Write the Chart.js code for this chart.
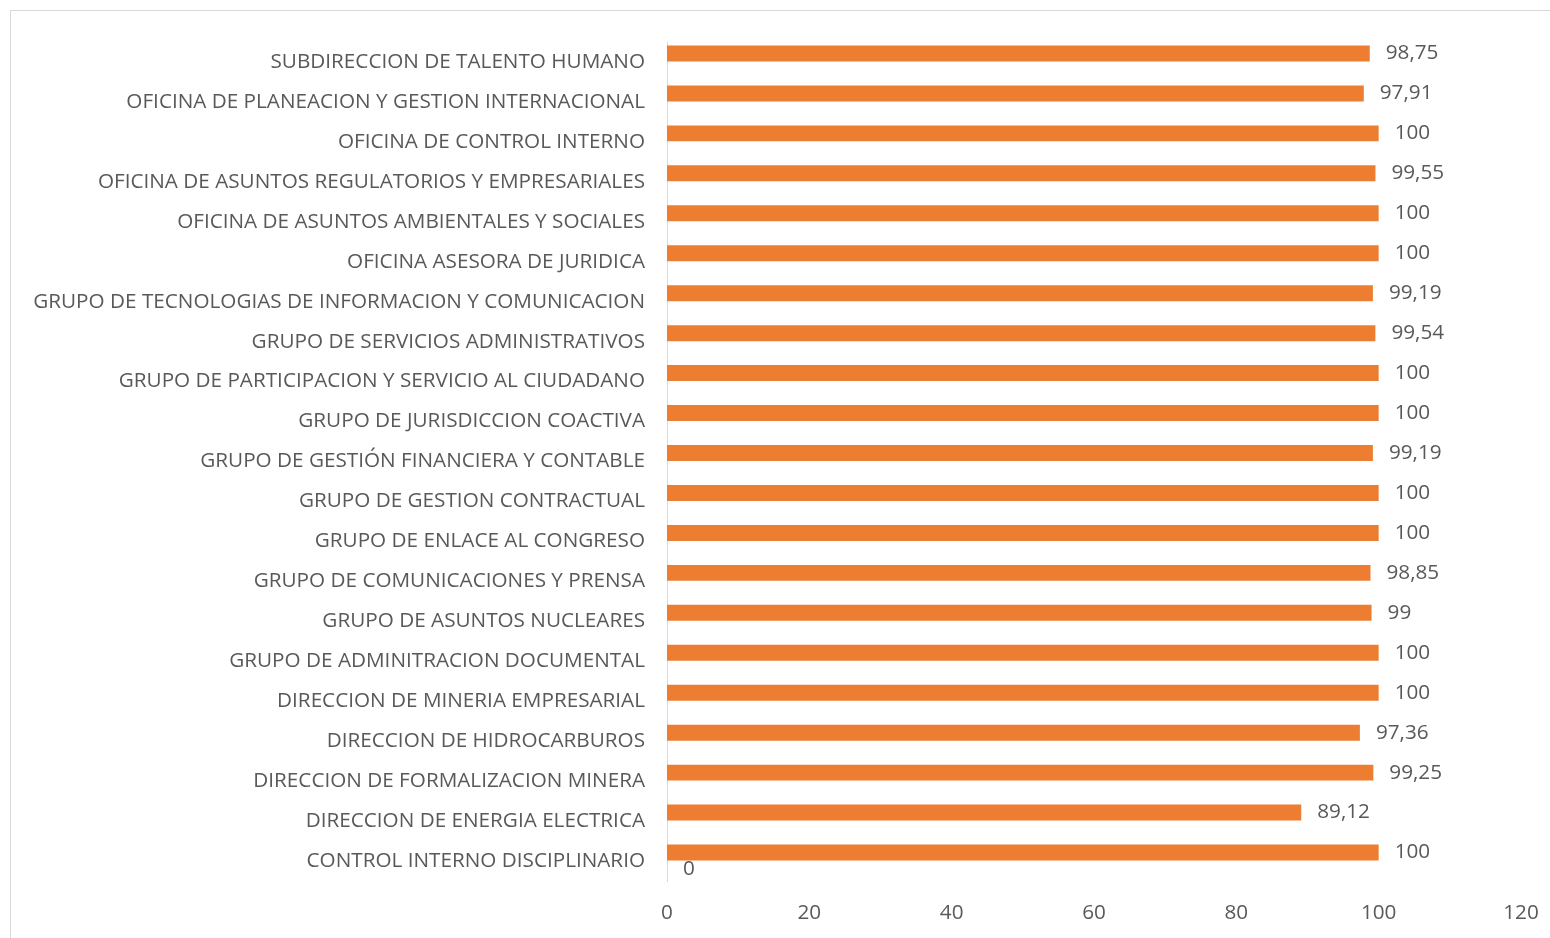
<!DOCTYPE html>
<html lang="es">
<head>
    <meta charset="UTF-8">
    <title>Cumplimiento por dependencia</title>
    <script src="https://cdn.jsdelivr.net/npm/chart.js@4.4.1/dist/chart.umd.min.js"></script>
    <style>
        html, body { margin: 0; padding: 0; background: #ffffff; }
        #wrap { position: relative; width: 1550px; height: 938px; overflow: hidden; }
        #frame {
            position: absolute; left: 10px; top: 10px;
            width: 1600px; height: 1000px;
            border: 1px solid #d9d9d9;
        }
        canvas { position: absolute; left: 0; top: 0; }
    </style>
</head>
<body>
<div id="wrap">
    <div id="frame"></div>
    <canvas id="chart" width="1550" height="938"></canvas>
</div>

<script>
    // categories, top to bottom as they appear
    const categories = [
        'SUBDIRECCION DE TALENTO HUMANO',
        'OFICINA DE PLANEACION Y GESTION INTERNACIONAL',
        'OFICINA DE CONTROL INTERNO',
        'OFICINA DE ASUNTOS REGULATORIOS Y EMPRESARIALES',
        'OFICINA DE ASUNTOS AMBIENTALES Y SOCIALES',
        'OFICINA ASESORA DE JURIDICA',
        'GRUPO DE TECNOLOGIAS DE INFORMACION Y COMUNICACION',
        'GRUPO DE SERVICIOS ADMINISTRATIVOS',
        'GRUPO DE PARTICIPACION Y SERVICIO AL CIUDADANO',
        'GRUPO DE JURISDICCION COACTIVA',
        'GRUPO DE GESTIÓN FINANCIERA Y CONTABLE',
        'GRUPO DE GESTION CONTRACTUAL',
        'GRUPO DE ENLACE AL CONGRESO',
        'GRUPO DE COMUNICACIONES Y PRENSA',
        'GRUPO DE ASUNTOS NUCLEARES',
        'GRUPO DE ADMINITRACION DOCUMENTAL',
        'DIRECCION DE MINERIA EMPRESARIAL',
        'DIRECCION DE HIDROCARBUROS',
        'DIRECCION DE FORMALIZACION MINERA',
        'DIRECCION DE ENERGIA ELECTRICA',
        'CONTROL INTERNO DISCIPLINARIO'
    ];

    const cumplimiento = [
        98.75, 97.91, 100, 99.55, 100, 100, 99.19, 99.54, 100, 100, 99.19,
        100, 100, 98.85, 99, 100, 100, 97.36, 99.25, 89.12, 100
    ];

    // second series only has a value on the last row
    const otraSerie = [
        null, null, null, null, null, null, null, null, null, null, null,
        null, null, null, null, null, null, null, null, null, 0
    ];

    const xTicks = [0, 20, 40, 60, 80, 100, 120];

    const textColor = '#595959';
    const fontFamily = "'Open Sans', 'Noto Sans', sans-serif";
    const fontSize = 20.7;

    const fmt = v => String(v).replace('.', ',');

    // draws the value labels next to the bar ends
    const valueLabels = {
        id: 'valueLabels',
        afterDatasetsDraw(chart) {
            const ctx = chart.ctx;
            ctx.save();
            ctx.fillStyle = textColor;
            ctx.font = fontSize + 'px ' + fontFamily;
            ctx.textAlign = 'left';
            ctx.textBaseline = 'middle';
            chart.data.datasets.forEach((ds, di) => {
                const meta = chart.getDatasetMeta(di);
                meta.data.forEach((bar, i) => {
                    const v = ds.data[i];
                    if (v === null || v === undefined) return;
                    ctx.fillText(fmt(v), bar.x + 16, bar.y);
                });
            });
            ctx.restore();
        }
    };

    new Chart(document.getElementById('chart'), {
        type: 'bar',
        data: {
            labels: categories,
            datasets: [
                {
                    label: 'Cumplimiento',
                    data: cumplimiento,
                    backgroundColor: '#ed7d31',
                    borderWidth: 0,
                    categoryPercentage: 0.85,
                    barPercentage: 0.94
                },
                {
                    label: 'Serie 2',
                    data: otraSerie,
                    backgroundColor: '#a5a5a5',
                    borderWidth: 0,
                    categoryPercentage: 0.85,
                    barPercentage: 0.94
                }
            ]
        },
        options: {
            indexAxis: 'y',
            responsive: false,
            animation: false,
            layout: { padding: { left: 0, right: 29, top: 42, bottom: 0 } },
            plugins: {
                legend: { display: false },
                tooltip: { enabled: false }
            },
            scales: {
                x: {
                    min: 0,
                    max: 120,
                    afterBuildTicks: s => { s.ticks = xTicks.map(v => ({ value: v })); },
                    afterFit: s => {
                        s.height = 57;
                        s.paddingLeft = 0;
                        s.paddingRight = 0;
                    },
                    grid: { display: false, drawTicks: false },
                    border: { display: false },
                    ticks: {
                        color: textColor,
                        padding: 20,
                        font: { family: fontFamily, size: fontSize }
                    }
                },
                y: {
                    afterFit: s => { s.width = 667; },
                    grid: { display: false, drawTicks: false },
                    border: { display: true, color: '#d9d9d9', width: 1 },
                    ticks: {
                        color: textColor,
                        padding: 22,
                        font: { family: fontFamily, size: fontSize }
                    }
                }
            }
        },
        plugins: [valueLabels]
    });
</script>
</body>
</html>
